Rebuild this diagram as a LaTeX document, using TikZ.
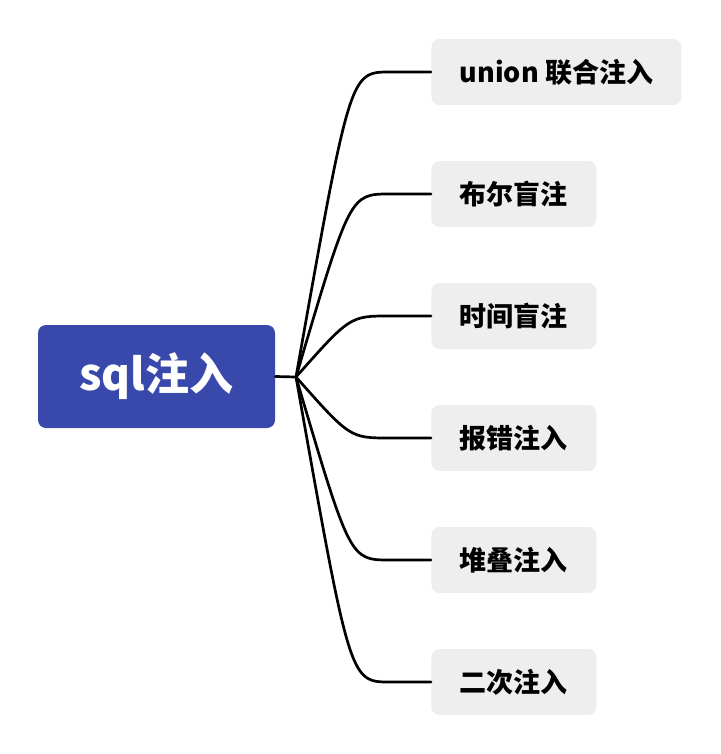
\documentclass[tikz,border=0pt]{standalone}
\usepackage{fontspec}
\newfontfamily\cjk{Noto Sans CJK SC}
\usetikzlibrary{calc, positioning}
\definecolor{rootblue}{HTML}{3949AB}
\definecolor{topicgray}{HTML}{EEEEEE}

\begin{document}
\begin{tikzpicture}[x=0.5pt, y=-0.5pt,
  rootbox/.style={rounded corners=4pt, fill=rootblue, text=white,
                  minimum width=118.5pt, minimum height=51.5pt,
                  font=\cjk\bfseries\fontsize{22}{26}\selectfont},
  topicbox/.style={rounded corners=4pt, fill=topicgray, anchor=west,
                   minimum width=82.5pt, minimum height=33pt,
                   font=\cjk\bfseries\fontsize{13.5}{16}\selectfont},
  branch/.style={line width=1.35pt, line cap=round}]
  \useasboundingbox (0,0) rectangle (720,754);
  \node[rootbox] (root) at (156.5,376.5) {sql注入};
  \coordinate (hub) at (296,377);
  \node[topicbox, minimum width=125pt] (t1) at (431,72)  {union 联合注入};
  \node[topicbox] (t2) at (431,194) {布尔盲注};
  \node[topicbox] (t3) at (431,316) {时间盲注};
  \node[topicbox] (t4) at (431,438) {报错注入};
  \node[topicbox] (t5) at (431,560) {堆叠注入};
  \node[topicbox] (t6) at (431,682) {二次注入};
  \draw[branch] (root.east) -- (hub);
  \foreach \t in {t1,t2,t3,t4,t5,t6}
    \draw[branch] (hub) .. controls ($(\t.west)+(-81,0)$) and ($(\t.west)+(-81,0)$)
      .. ($(\t.west)+(-41,0)$) -- (\t.west);
\end{tikzpicture}
\end{document}
